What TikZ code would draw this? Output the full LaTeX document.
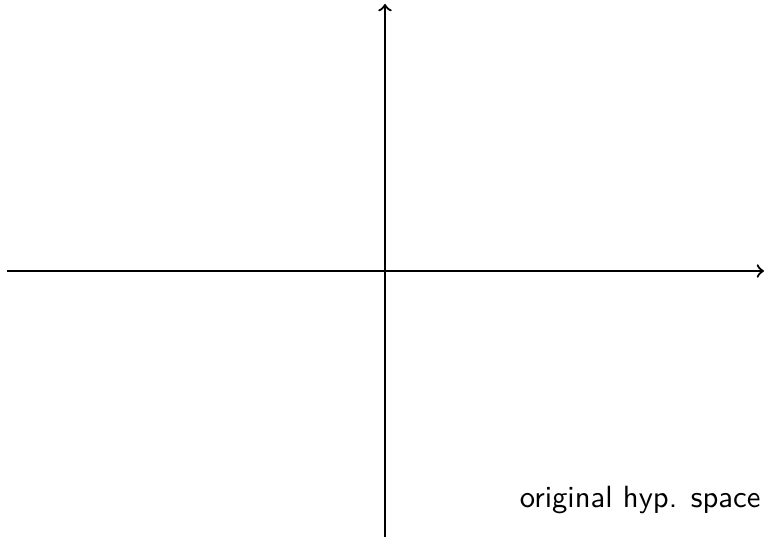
\documentclass[tikz,border=0pt]{standalone}
\usepackage{tikz}
\usetikzlibrary{positioning}
\tikzset{
  axis/.style={->, line width=0.8pt, draw=black},
  spacelabel/.style={font=\sffamily\fontsize{10.9}{13}\selectfont, inner sep=0pt, anchor=base east},
}
\begin{document}
\begin{tikzpicture}[x=0.0125cm,y=-0.0125cm]
    \useasboundingbox (0,0) rectangle (764,537);
    \coordinate (xmin) at (7,271);
    \coordinate (xmax) at (764,271);
    \coordinate (ymin) at (385,537);
    \coordinate (ymax) at (385,4);
    \draw[axis] (xmin) -- (xmax);
    \draw[axis] (ymin) -- (ymax);
    \node[spacelabel] (hyp) at (761,507) {original hyp. space};
  \end{tikzpicture}
\end{document}
